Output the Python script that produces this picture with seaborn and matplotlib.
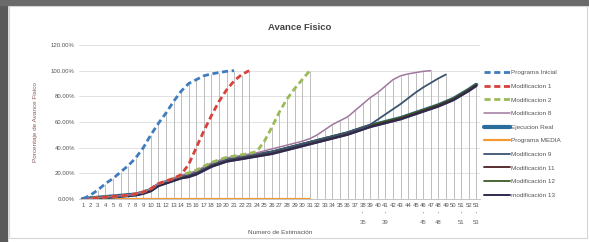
import pandas as pd
import matplotlib
matplotlib.use("Agg")
import matplotlib.pyplot as plt
from matplotlib.patches import Rectangle
from matplotlib.ticker import FuncFormatter
import seaborn as sns

# numero de estimacion 1..53
estimaciones = list(range(1, 54))

programa_inicial = [0, 3, 7, 12, 16, 21, 26, 32, 40, 50, 59, 67, 76, 84, 90, 93, 96, 97.5, 98.5, 99.5, 100]
modificacion_1 = [0, 0.5, 1, 1.5, 2, 2.5, 3, 4, 5.5, 8, 12, 14, 16, 19, 27, 40, 53, 65, 76, 85, 92, 97, 100]
modificacion_2 = [0, 0.5, 1, 1.5, 2, 2.5, 3, 4, 5.5, 8, 12, 14, 16, 18.5, 20.5, 22.5, 25.5, 28.5, 30.5, 32.5,
                  33.5, 34.5, 35.5, 37, 45, 56, 68, 78, 86, 93, 100]
modificacion_8 = [0, 0.5, 1, 1.5, 2, 2.5, 3, 4, 5.5, 8, 12, 14, 16, 18.5, 20, 22, 25, 28, 30, 32,
                  33, 34, 35, 36, 37.5, 39, 40.5, 42, 43.5, 45, 47, 50, 54, 58, 61, 64, 69, 74, 79, 83,
                  88, 93, 96, 97.5, 98.5, 99.5, 100]
ejecucion_real = [0, 0.5, 1, 1.5, 2, 2.5, 3, 3.5, 5, 7, 11, 13, 15, 17, 18, 20, 23, 26, 28, 30,
                  31, 32, 33, 34, 35, 36, 37.5, 39, 40.5, 42, 43.5, 45, 46.5, 48, 49.5, 51, 53, 55, 57, 58.5,
                  60, 61.5, 63, 65, 67, 69, 71, 73, 75.5, 78, 81.5, 85, 89]
programa_media = [0] * 31
modificacion_9 = [0, 0.6, 1.2, 1.8, 2.3, 2.8, 3.4, 4, 5.6, 7.6, 11.6, 13.6, 15.8, 17.8, 19, 21, 24, 27, 29, 31,
                  32, 33, 34, 35, 36, 37, 38.5, 40, 41.5, 43, 44.5, 46, 47.5, 49, 50.5, 52, 54, 55.5, 58, 62,
                  66, 70, 74, 78.5, 83, 87, 90.5, 94, 97]
modificacion_11 = [0, 0.3, 0.8, 1.2, 1.7, 2.2, 2.7, 3.2, 4.5, 6.5, 10.5, 12.5, 14.5, 16.5, 17.5, 19.5, 22.5, 25.5, 27.5, 29.5,
                   30.5, 31.5, 32.5, 33.5, 34.5, 35.5, 37, 38.5, 40, 41.5, 43, 44.5, 46, 47.5, 49, 50.5, 52.5, 54.5, 56.5, 58,
                   59.5, 61, 62.5, 64.5, 66.5, 68.5, 70.5, 72.5, 75, 77.5, 81, 84.5, 88.5]
modificacion_12 = [0, 0.6, 1.2, 1.8, 2.3, 2.8, 3.4, 4, 5.6, 7.6, 11.6, 13.6, 15.8, 17.8, 19, 21, 24, 27, 29, 31,
                   32, 33, 34, 35, 36, 37, 38.5, 40, 41.5, 43, 44.5, 46, 47.5, 49, 50.5, 52, 54, 56, 57.5, 59,
                   60.5, 62, 63.5, 65.5, 67.5, 69.5, 71.5, 73.5, 76, 78.5, 82, 85.5, 89.5]
modificacion_13 = [0, 0.2, 0.6, 1, 1.4, 1.9, 2.4, 2.9, 4, 6, 10, 12, 14, 16, 17, 19, 22, 25, 27, 29,
                   30, 31, 32, 33, 34, 35, 36.5, 38, 39.5, 41, 42.5, 44, 45.5, 47, 48.5, 50, 52, 54, 56, 57.5,
                   59, 60.5, 62, 64, 66, 68, 70, 72, 74.5, 77, 80.5, 84, 88]

series = {
    "Programa Inicial": programa_inicial,
    "Modificacion 1": modificacion_1,
    "Modificacion 2": modificacion_2,
    "Modificacion 8": modificacion_8,
    "Ejecucion Real": ejecucion_real,
    "Programa MEDIA": programa_media,
    "Modificacion 9": modificacion_9,
    "Modificación 11": modificacion_11,
    "Modificación 12": modificacion_12,
    "modificación 13": modificacion_13,
}

# segunda fila de etiquetas bajo el eje
extra_pos = [38, 41, 46, 48, 51, 53]
extra_txt = ["35", "39", "45", "48", "51", "53"]

rows = []
for name, vals in series.items():
    for k, v in zip(estimaciones, vals):
        rows.append({"serie": name, "est": k, "avance": float(v)})
df = pd.DataFrame(rows)

sns.set_style("white")
plt.rcParams["font.family"] = ["Liberation Sans", "DejaVu Sans"]

# color, ancho, tipo de linea, orden de dibujo
estilo = {
    "Programa MEDIA": ("#f39a35", 1.6, "-", 3),
    "Ejecucion Real": ("#2a6c9c", 3.0, "-", 4),
    "Modificación 12": ("#3d5a25", 1.3, "-", 5),
    "Modificación 11": ("#4a2020", 1.3, "-", 5),
    "modificación 13": ("#33294f", 1.4, "-", 6),
    "Modificacion 9": ("#3c5470", 1.3, "-", 6),
    "Modificacion 8": ("#a0789f", 1.1, "-", 7),
    "Modificacion 2": ("#9bbb59", 2.0, (0, (2.2, 1.3)), 8),
    "Modificacion 1": ("#d9413c", 2.0, (0, (2.2, 1.3)), 9),
    "Programa Inicial": ("#3f7bbf", 2.0, (0, (2.2, 1.3)), 10),
}

fig = plt.figure(figsize=(5.89, 2.42), dpi=100)
fig.patch.set_facecolor("white")
ax = fig.add_axes([79 / 589, 1 - 199 / 242, 401 / 589, 154 / 242])

handles = {}
for name, (color, lw, ls, z) in estilo.items():
    sub = df[df["serie"] == name]
    sns.lineplot(data=sub, x="est", y="avance", color=color, lw=lw, linestyle=ls,
                 ax=ax, zorder=z, label=name)
    handles[name] = ax.get_lines()[-1]
if ax.get_legend():
    ax.get_legend().remove()

# lineas de proyeccion hasta el valor maximo de cada estimacion
tope = df.groupby("est")["avance"].max()
for k, v in tope.items():
    ax.plot([k, k], [0, v], color="#bdbdbd", lw=0.7, zorder=2, solid_capstyle="butt")

ax.set_xlim(0.5, 53.5)
ax.set_ylim(0, 120)
ax.set_yticks(range(0, 121, 20))
ax.yaxis.set_major_formatter(FuncFormatter(lambda v, p: "%.2f%%" % v))
ax.set_xticks(estimaciones)
ax.set_xticklabels([str(k) for k in estimaciones])
ax.tick_params(axis="both", labelsize=4.3, colors="#555555", length=0, pad=3)
ax.grid(axis="y", color="#dddddd", lw=0.6)
ax.grid(axis="x", visible=False)
ax.set_axisbelow(True)
for s in ["top", "right", "left"]:
    ax.spines[s].set_visible(False)
ax.spines["bottom"].set_color("#bbbbbb")
ax.spines["bottom"].set_linewidth(0.6)
ax.set_xlabel("")
ax.set_ylabel("")

for k, t in zip(extra_pos, extra_txt):
    ax.text(k, -0.10, "'", transform=ax.get_xaxis_transform(), ha="center", va="center",
            fontsize=4.3, color="#666666")
    ax.text(k, -0.15, t, transform=ax.get_xaxis_transform(), ha="center", va="center",
            fontsize=4.3, color="#666666")

fig.text(300 / 589, 1 - 27 / 242, "Avance Fisico", ha="center", va="center",
         fontsize=6.8, fontweight="bold", color="#444444")
fig.text(36 / 589, 1 - 122 / 242, "Porcentaje de Avance Fisico", rotation=90,
         ha="center", va="center", fontsize=4.6, color="#8a5a5a")
fig.text(280 / 589, 1 - 232 / 242, "Numero de Estimación", ha="center", va="center",
         fontsize=4.6, color="#555555")

orden = list(series.keys())
fig.legend([handles[n] for n in orden], orden, loc="upper left",
           bbox_to_anchor=(484 / 589, 1 - 70 / 242), frameon=False, fontsize=4.6,
           handlelength=4.0, handletextpad=0.3, labelspacing=1.27, labelcolor="#555555",
           borderaxespad=0, borderpad=0)

# marco de la foto
fig.patches.append(Rectangle((0, 0), 7 / 589, 1, transform=fig.transFigure,
                             color="#5a5a5a", zorder=0))
fig.patches.append(Rectangle((0, 1 - 5 / 242), 1, 5 / 242, transform=fig.transFigure,
                             color="#6a6a6a", zorder=0))
fig.patches.append(Rectangle((9 / 589, 4 / 242), 578 / 589, 232 / 242, transform=fig.transFigure,
                             fill=False, ec="#d5d5d5", lw=0.8, zorder=0))

fig.savefig("out.png", dpi=100)
